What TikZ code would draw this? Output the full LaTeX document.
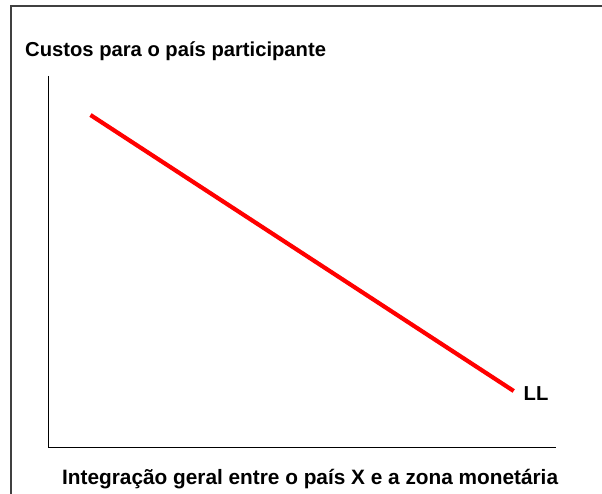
\documentclass[tikz,border=0pt]{standalone}
\usepackage{fontspec}
\setmainfont{Liberation Sans}
\begin{document}
\begin{tikzpicture}[x=1pt,y=1pt,
  lbl/.style={inner sep=0pt,anchor=base west,font=\fontsize{20.2}{24}\selectfont\bfseries},
  biglbl/.style={lbl,font=\fontsize{20.8}{24}\selectfont\bfseries},
  framestyle/.style={draw=black!75,line width=2.2pt},
  axisstyle/.style={draw=black,line width=1.3pt},
  curvestyle/.style={draw=red,line width=4.2pt}]
\useasboundingbox (0,0) rectangle (602,493);
\fill[white] (0,0) rectangle (602,493);
% frame
\coordinate (fbl) at (11,-5);
\coordinate (ftl) at (11,487);
\coordinate (ftr) at (610,487);
\draw[framestyle] (fbl) -- (ftl) -- (ftr);
% axes
\coordinate (ytop) at (48.3,417);
\coordinate (orig) at (48.3,45.5);
\coordinate (xend) at (556,45.5);
\draw[axisstyle] (ytop) -- (orig) -- (xend);
% curve
\coordinate (ls) at (90.5,378);
\coordinate (le) at (513.7,102);
\draw[curvestyle] (ls) -- (le);
% labels
\node[lbl] (title) at (25,436.3) {Custos para o país participante};
\node[biglbl] (xlabel) at (62,8.7) {Integração geral entre o país X e a zona monetária};
\node[lbl] (ll) at (523.5,92.3) {LL};
\end{tikzpicture}
\end{document}
